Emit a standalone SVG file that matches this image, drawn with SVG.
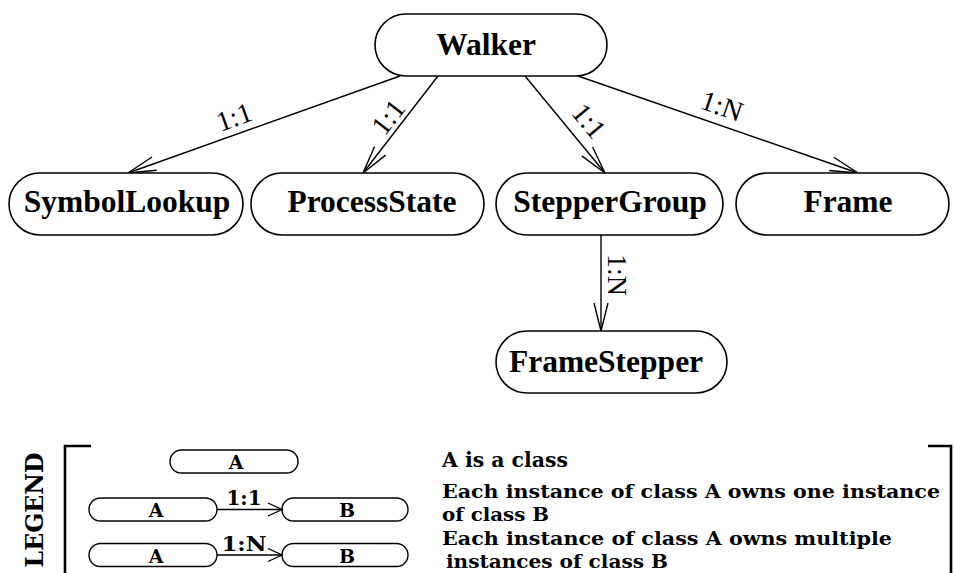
<svg xmlns="http://www.w3.org/2000/svg" width="954" height="573" viewBox="0 0 954 573">
<style>
.node rect{fill:#fff;stroke:#000;stroke-width:1.6}
.nl{font-family:"Liberation Serif","Times New Roman",serif;font-weight:bold;font-size:31.5px;text-anchor:middle}
.el{font-family:"Liberation Serif","Times New Roman",serif;font-size:28px;text-anchor:middle}
.edge{stroke:#000;stroke-width:1.4;fill:none}
.lg{font-family:"DejaVu Serif",serif;font-weight:bold;fill:#000}
.lrect{fill:#fff;stroke:#000;stroke-width:1.4}
.bracket{fill:none;stroke:#000;stroke-width:2.6}
</style>
<defs>
<marker id="arr" markerUnits="userSpaceOnUse" viewBox="-1 -1 31 16" refX="28" refY="7" markerWidth="31" markerHeight="16" orient="auto">
<path d="M0,0 L28,7 L0,14" fill="none" stroke="#000" stroke-width="1.4"/>
</marker>
<marker id="arrs" markerUnits="userSpaceOnUse" viewBox="-1 -1 17 16" refX="14" refY="6.5" markerWidth="17" markerHeight="16" orient="auto">
<path d="M0,0 L14,6.5 L0,13" fill="none" stroke="#000" stroke-width="1.3"/>
</marker>
</defs>
<g id="connectors">
<line class="edge" x1="400" y1="76" x2="128" y2="173" marker-end="url(#arr)"/>
<line class="edge" x1="438" y1="76" x2="363" y2="173" marker-end="url(#arr)"/>
<line class="edge" x1="525" y1="76" x2="605" y2="173" marker-end="url(#arr)"/>
<line class="edge" x1="578" y1="76" x2="858" y2="173" marker-end="url(#arr)"/>
<line class="edge" x1="601" y1="235" x2="601" y2="331" marker-end="url(#arr)"/>
<text class="el" transform="translate(234,117) rotate(-19.8)" y="9.5">1:1</text>
<text class="el" transform="translate(388,117) rotate(-52)" y="9.5">1:1</text>
<text class="el" transform="translate(589,121) rotate(50.5)" y="9.5">1:1</text>
<text class="el" transform="translate(722,106) rotate(19.1)" y="9.5">1:N</text>
<text class="el" transform="translate(617,275) rotate(90)" y="9.5">1:N</text>
</g>
<g id="walker" class="node"><rect x="375" y="14" width="232" height="62" rx="31"/><text class="nl" x="486" y="55">Walker</text></g>
<g id="symbollookup" class="node"><rect x="9" y="173" width="234" height="62" rx="31"/><text class="nl" x="127" y="212">SymbolLookup</text></g>
<g id="processstate" class="node"><rect x="251" y="173" width="233" height="62" rx="31"/><text class="nl" x="372" y="212">ProcessState</text></g>
<g id="steppergroup" class="node"><rect x="496" y="173" width="227" height="62" rx="31"/><text class="nl" x="610" y="212">StepperGroup</text></g>
<g id="frame" class="node"><rect x="736" y="173" width="213" height="62" rx="31"/><text class="nl" x="848" y="212">Frame</text></g>
<g id="framestepper" class="node"><rect x="496" y="331" width="231" height="62" rx="31"/><text class="nl" x="606" y="372">FrameStepper</text></g>
<g id="legend">
<path class="bracket" d="M91,446 H65 V573"/>
<path class="bracket" d="M928,446 H951 V573"/>
<text class="lg" font-size="25" text-anchor="middle" transform="translate(43,510) rotate(-90)" textLength="115" lengthAdjust="spacingAndGlyphs">LEGEND</text>
<rect class="lrect" x="170" y="450" width="128" height="23" rx="11.5"/>
<text class="lg" font-size="19" text-anchor="middle" x="236" y="469">A</text>
<rect class="lrect" x="89" y="498" width="128" height="23" rx="11.5"/>
<text class="lg" font-size="19" text-anchor="middle" x="156" y="517">A</text>
<rect class="lrect" x="282" y="498" width="126" height="23" rx="11.5"/>
<text class="lg" font-size="19" text-anchor="middle" x="347" y="517">B</text>
<line class="edge" x1="217" y1="509.5" x2="282" y2="509.5" marker-end="url(#arrs)"/>
<text class="lg" font-size="20" text-anchor="middle" x="244" y="505" textLength="35" lengthAdjust="spacingAndGlyphs">1:1</text>
<rect class="lrect" x="89" y="543.5" width="128" height="23" rx="11.5"/>
<text class="lg" font-size="19" text-anchor="middle" x="156" y="562.5">A</text>
<rect class="lrect" x="282" y="543.5" width="126" height="23" rx="11.5"/>
<text class="lg" font-size="19" text-anchor="middle" x="347" y="562.5">B</text>
<line class="edge" x1="217" y1="555" x2="282" y2="555" marker-end="url(#arrs)"/>
<text class="lg" font-size="20" text-anchor="middle" x="244" y="551" textLength="45" lengthAdjust="spacingAndGlyphs">1:N</text>
<text class="lg" font-size="20" x="442" y="467" textLength="126" lengthAdjust="spacingAndGlyphs">A is a class</text>
<text class="lg" font-size="19" x="442" y="498" textLength="498" lengthAdjust="spacingAndGlyphs">Each instance of class A owns one instance</text>
<text class="lg" font-size="19" x="442" y="521" textLength="107" lengthAdjust="spacingAndGlyphs">of class B</text>
<text class="lg" font-size="19" x="442" y="545" textLength="450" lengthAdjust="spacingAndGlyphs">Each instance of class A owns multiple</text>
<text class="lg" font-size="19" x="446" y="568" textLength="222" lengthAdjust="spacingAndGlyphs">instances of class B</text>
</g>
</svg>
